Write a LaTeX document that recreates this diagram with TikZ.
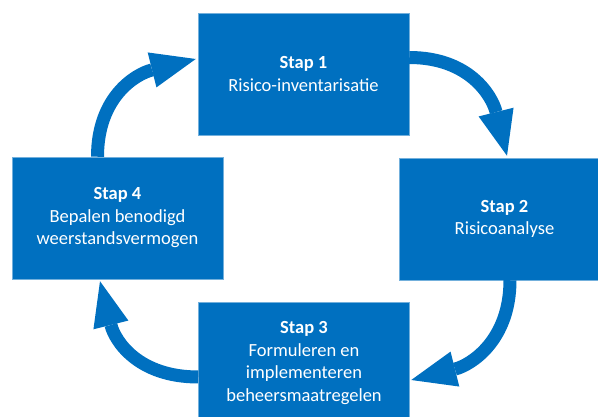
\documentclass[tikz,border=0pt]{standalone}
\usepackage{fontspec}
\setmainfont{Carlito}
\usetikzlibrary{arrows.meta}
\definecolor{stapblue}{HTML}{0070C0}
\tikzset{
  stapbox/.style={fill=stapblue, draw=stapblue!55!white, line width=0.5pt,
    text=white, align=center, inner sep=0pt,
    minimum width=211pt, minimum height=122pt,
    font=\fontsize{18.5}{22.5}\selectfont},
  cyclearrow/.style={draw=stapblue, line width=13pt,
    -{Triangle[length=45pt,width=36pt,line width=0pt]}}
}
\begin{document}
\begin{tikzpicture}[x=1pt,y=-1pt]
  \clip (0,0) rectangle (598,417);
  % the four steps, clockwise from the top
  \node[stapbox] (stap1) at (303.5,74) {\textbf{Stap 1}\\Risico-inventarisatie};
  \node[stapbox] (stap2) at (504.5,219) {\textbf{Stap 2}\\Risicoanalyse};
  \node[stapbox] (stap3) at (304,363) {\textbf{Stap 3}\\Formuleren en\\implementeren\\beheersmaatregelen};
  \node[stapbox] (stap4) at (117.5,218) {\textbf{Stap 4}\\Bepalen benodigd\\weerstandsvermogen};

  % curved arrows between the steps
  \draw[cyclearrow] ([yshift=16.5pt]stap1.east) .. controls +(60,0) and +(-15,-60) .. ([xshift=2.5pt,yshift=2pt]stap2.north);
  \draw[cyclearrow] ([xshift=5.5pt]stap2.south) .. controls +(0,60) and +(60,-15) .. ([xshift=1.5pt,yshift=-17pt]stap3.east);
  \draw[cyclearrow] ([yshift=-14pt]stap3.west) .. controls +(-60,0) and +(15,60) .. ([xshift=-17.5pt,yshift=-2pt]stap4.south);
  \draw[cyclearrow] ([xshift=-20pt]stap4.north) .. controls +(0,-60) and +(-60,15) .. ([xshift=-2pt,yshift=15pt]stap1.west);
\end{tikzpicture}
\end{document}
